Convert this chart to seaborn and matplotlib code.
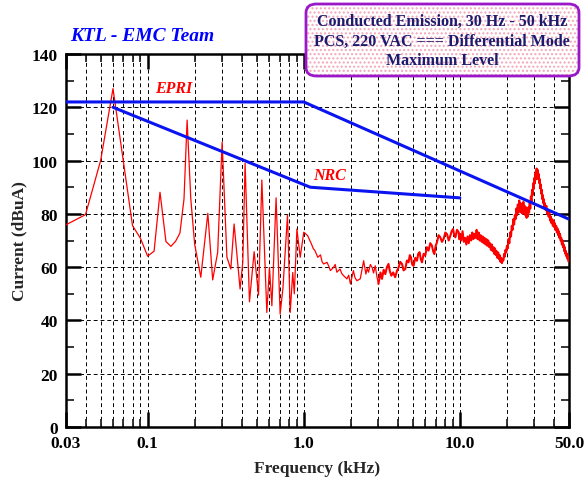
import matplotlib
matplotlib.use("Agg")
import matplotlib.pyplot as plt
from matplotlib.patches import FancyBboxPatch
from matplotlib.ticker import FixedLocator, NullFormatter
import numpy as np
import pandas as pd
import seaborn as sns

# Measured spectrum: low-frequency harmonics (kHz, dBuA)
low_freq = [0.030, 0.040, 0.050, 0.060, 0.080, 0.090, 0.100, 0.110, 0.120, 0.131,
            0.141, 0.151, 0.161, 0.171, 0.179, 0.189, 0.200, 0.219, 0.243, 0.261,
            0.281, 0.300, 0.322, 0.341, 0.358, 0.391, 0.407, 0.421, 0.449, 0.481,
            0.513, 0.539, 0.580, 0.603, 0.625, 0.665, 0.706, 0.735, 0.787, 0.819,
            0.850, 0.870, 0.904, 0.949, 1.000]
low_level = [75.9, 79.7, 100.0, 127.0, 75.6, 70.8, 64.1, 66.0, 88.1, 69.6,
             67.8, 69.7, 72.8, 85.6, 115.2, 85.6, 68.7, 56.2, 80.2, 55.2,
             65.6, 106.9, 63.7, 59.3, 76.2, 51.8, 62.0, 99.0, 47.0, 65.8,
             49.5, 92.7, 43.0, 59.9, 45.5, 86.0, 42.4, 51.8, 79.6, 43.0,
             58.0, 50.0, 74.3, 63.7, 73.1]

# Measured spectrum: 1 kHz - 3 kHz
mid_freq = [1.02, 1.06, 1.09, 1.12, 1.15, 1.18, 1.23, 1.28, 1.31, 1.34,
            1.41, 1.45, 1.48, 1.55, 1.59, 1.63, 1.71, 1.75, 1.80, 1.89,
            1.94, 1.99, 2.08, 2.13, 2.19, 2.30, 2.36, 2.42, 2.50, 2.55,
            2.60, 2.67, 2.74, 2.80, 2.87, 2.94, 3.01]
mid_level = [72.7, 71.8, 70.2, 68.7, 67.0, 66.2, 63.7, 64.6, 62.0, 61.2,
             61.8, 60.2, 58.7, 59.9, 61.0, 58.1, 59.3, 57.6, 56.8, 55.6,
             57.0, 53.7, 58.7, 56.0, 54.9, 55.6, 59.0, 62.4, 57.4, 59.5,
             58.1, 61.0, 59.9, 57.8, 60.5, 56.5, 53.7]

# Measured spectrum: 3 kHz - 50 kHz (dense sweep)
high_freq = [3.10, 3.17, 3.25, 3.33, 3.41, 3.49, 3.56, 3.64, 3.74, 3.85,
             3.95, 4.05, 4.15, 4.26, 4.36, 4.47, 4.58, 4.69, 4.78, 4.86,
             4.95, 5.05, 5.18, 5.31, 5.41, 5.52, 5.62, 5.72, 5.86, 6.00,
             6.15, 6.30, 6.46, 6.62, 6.74, 6.86, 7.00, 7.13, 7.31, 7.49,
             7.68, 7.87, 8.07, 8.27, 8.48, 8.69, 8.86, 9.04, 9.20, 9.36,
             9.59, 9.82, 9.91,
             10.0, 10.2, 10.4, 10.6, 10.8, 11.0, 11.2, 11.4, 11.6, 11.8,
             12.0, 12.2, 12.4, 12.6, 12.8, 13.0, 13.2, 13.4, 13.6, 13.8,
             14.0, 14.2, 14.4, 14.6, 14.8, 15.0, 15.2, 15.4, 15.6, 15.8,
             16.0, 16.2, 16.4, 16.6, 16.8, 17.0, 17.2, 17.4, 17.6, 17.8,
             18.0, 18.2, 18.4, 18.6, 18.8, 19.0, 19.2, 19.4, 19.6, 19.8,
             20.0, 20.25, 20.5, 20.75, 21.0, 21.25, 21.5, 21.75, 22.0, 22.25,
             22.5, 22.75, 23.0, 23.25, 23.5, 23.75, 24.0, 24.25, 24.5, 24.75,
             25.0, 25.25, 25.5, 25.75, 26.0, 26.25, 26.5, 26.75, 27.0, 27.25,
             27.5, 27.75, 28.0, 28.25, 28.5, 28.75, 29.0, 29.25, 29.5, 29.75,
             30.0, 30.25, 30.5, 30.75, 31.0, 31.25, 31.5, 31.75, 32.0, 32.25,
             32.5, 32.75, 33.0, 33.25, 33.5, 33.75, 34.0, 34.25, 34.5, 34.75,
             35.0, 35.4, 35.8, 36.2, 36.6, 37.0, 37.4, 37.8, 38.2, 38.6,
             39.0, 39.4, 39.8, 40.2, 40.6, 41.0, 41.4, 41.8, 42.2, 42.6,
             43.0, 43.4, 43.8, 44.2, 44.6, 45.0, 45.4, 45.8, 46.2, 46.6,
             47.0, 47.4, 47.8, 48.2, 48.6, 49.0, 49.4, 49.8, 50.0]
high_level = [58.0, 55.6, 59.0, 57.4, 60.0, 61.2, 58.5, 56.8, 58.0, 56.2,
              58.5, 59.9, 62.0, 61.2, 58.8, 59.3, 62.5, 61.8, 64.5, 63.7,
              61.0, 60.5, 63.5, 62.4, 65.0, 65.6, 63.0, 61.8, 65.0, 64.3,
              67.5, 66.2, 69.0, 68.1, 66.0, 64.9, 68.0, 69.3, 72.0, 71.2,
              69.5, 70.6, 73.0, 72.4, 70.0, 71.8, 73.5, 74.3, 72.0, 71.2,
              74.0, 73.1, 70.5,
              72.5, 70.0, 73.5, 69.5, 71.0, 68.5, 71.5, 69.0, 72.0, 70.0,
              73.0, 70.5, 72.5, 71.0, 74.0, 70.5, 73.0, 70.0, 72.0, 69.5,
              71.5, 69.0, 71.0, 68.5, 70.5, 68.0, 70.0, 67.5, 69.0, 66.5,
              68.5, 66.0, 67.5, 65.0, 67.0, 64.5, 66.0, 63.5, 65.5, 63.0,
              64.5, 62.0, 63.5, 61.5, 63.0, 62.5, 65.0, 64.0, 66.5, 65.5,
              68.0, 67.0, 70.5, 69.0, 73.0, 71.5, 75.5, 74.0, 78.0, 76.0,
              79.5, 78.0, 82.0, 79.5, 83.5, 80.5, 85.0, 81.5, 84.0, 80.5,
              83.5, 80.0, 84.5, 81.0, 83.0, 79.5, 82.5, 78.5, 81.5, 79.0,
              82.5, 80.5, 84.0, 82.0, 86.5, 84.5, 89.0, 87.0, 91.5, 89.5,
              93.5, 91.5, 95.5, 93.0, 97.0, 94.0, 96.5, 93.0, 95.0, 91.5,
              93.0, 89.5, 91.0, 87.5, 89.0, 85.5, 87.0, 84.0, 85.5, 82.5,
              84.0, 81.5, 83.0, 80.0, 81.5, 79.0, 80.5, 77.5, 79.0, 76.5,
              78.0, 75.5, 77.5, 75.0, 76.5, 74.0, 75.5, 73.0, 74.5, 72.0,
              73.5, 71.0, 72.5, 70.0, 71.0, 68.5, 70.0, 67.5, 68.5, 66.0,
              67.5, 65.0, 66.0, 64.0, 65.0, 63.0, 64.0, 62.0, 63.0]

# Limit lines
epri_freq = [0.03, 1.0, 50.0]
epri_level = [122, 122, 78]
nrc_freq = [0.06, 1.1, 10.0]
nrc_level = [120, 90, 86]

x_tick_values = [0.03, 0.1, 1.0, 10.0, 50.0]
x_tick_labels = ["0.03", "0.1", "1.0", "10.0", "50.0"]
y_tick_values = [0, 20, 40, 60, 80, 100, 120, 140]

title_lines = ["Conducted Emission, 30 Hz - 50 kHz",
               "PCS, 220 VAC === Differential Mode",
               "Maximum Level"]

sns.set_style("ticks")
plt.rcParams["font.family"] = ["Liberation Serif", "DejaVu Serif"]
plt.rcParams["font.weight"] = "bold"

fig = plt.figure(figsize=(5.84, 4.81), dpi=100)
ax = fig.add_axes([66 / 584, 1 - 428 / 481, (569 - 66) / 584, (428 - 55) / 481])

sweep_low = pd.DataFrame({
    "freq": low_freq + mid_freq,
    "level": low_level + mid_level,
})
sweep_high = pd.DataFrame({
    "freq": [mid_freq[-1]] + high_freq,
    "level": [mid_level[-1]] + high_level,
})
sns.lineplot(data=sweep_low, x="freq", y="level", ax=ax, color="#ff0000",
             lw=0.9, estimator=None, sort=False, zorder=3)
sns.lineplot(data=sweep_high, x="freq", y="level", ax=ax, color="#ff0000",
             lw=1.5, estimator=None, sort=False, zorder=3)

epri = pd.DataFrame({"freq": epri_freq, "level": epri_level})
nrc = pd.DataFrame({"freq": nrc_freq, "level": nrc_level})
sns.lineplot(data=epri, x="freq", y="level", ax=ax, color="#0a14f0",
             lw=2.2, estimator=None, sort=False, zorder=4)
sns.lineplot(data=nrc, x="freq", y="level", ax=ax, color="#0a14f0",
             lw=2.2, estimator=None, sort=False, zorder=4)

ax.set_xscale("log")
ax.set_xlim(0.03, 50.0)
ax.set_ylim(0, 140)

ax.xaxis.set_major_locator(FixedLocator(x_tick_values))
ax.set_xticklabels(x_tick_labels)
minor_x = [m * d for d in (0.01, 0.1, 1.0, 10.0) for m in range(2, 10)]
minor_x = [v for v in minor_x if 0.031 < v < 49 and not np.isclose(v, 0.1)]
ax.xaxis.set_minor_locator(FixedLocator(minor_x))
ax.xaxis.set_minor_formatter(NullFormatter())
ax.yaxis.set_major_locator(FixedLocator(y_tick_values))
ax.yaxis.set_minor_locator(FixedLocator(list(range(10, 140, 20))))

for side in ["left", "right", "top", "bottom"]:
    ax.spines[side].set_linewidth(1.8)
    ax.spines[side].set_color("black")

ax.tick_params(which="major", direction="in", length=11, width=1.8,
               top=True, right=True, labelsize=12.5, pad=6, colors="black")
ax.tick_params(which="minor", direction="in", length=6, width=1.3,
               top=True, right=True)
for lab in ax.get_xticklabels() + ax.get_yticklabels():
    lab.set_fontweight("bold")

ax.grid(which="both", axis="x", color="black", lw=0.7, ls=(0, (4, 3)))
ax.grid(which="major", axis="y", color="black", lw=0.7, ls=(0, (4, 3)))
ax.set_axisbelow(True)

ax.set_xlabel("Frequency (kHz)", fontsize=12.5, fontweight="bold", labelpad=6)
ax.set_ylabel("Current (dBuA)", fontsize=12.5, fontweight="bold", labelpad=3)

ax.text(0.112, 125.7, "EPRI", color="#ff0000", fontsize=11.5,
        fontweight="bold", fontstyle="italic", ha="left", va="baseline")
ax.text(1.15, 93.0, "NRC", color="#ff0000", fontsize=11.5,
        fontweight="bold", fontstyle="italic", ha="left", va="baseline")

fig.text(70 / 584, 1 - 37 / 481, "KTL - EMC Team", color="#0000ff",
         fontsize=14, fontweight="bold", fontstyle="italic",
         ha="left", va="center")

# Title panel in the upper-right corner
bx0, by0, bw, bh = 306 / 584, 1 - 77 / 481, 273 / 584, 72 / 481
dots = FancyBboxPatch((bx0, by0), bw, bh, boxstyle="round,pad=0,rounding_size=0.018",
                      transform=fig.transFigure, facecolor="white",
                      edgecolor="#f3a6bb", hatch="....", lw=0, zorder=5)
frame = FancyBboxPatch((bx0, by0), bw, bh, boxstyle="round,pad=0,rounding_size=0.018",
                       transform=fig.transFigure, facecolor="none",
                       edgecolor="#9a18c8", lw=2.0, zorder=6)
fig.add_artist(dots)
fig.add_artist(frame)
for i, line in enumerate(title_lines):
    fig.text(442 / 584, 1 - (22 + 19.5 * i) / 481, line, color="#1b1b6e",
             fontsize=11.5, fontweight="bold", ha="center", va="center", zorder=7)

fig.savefig("out.png", dpi=100)
